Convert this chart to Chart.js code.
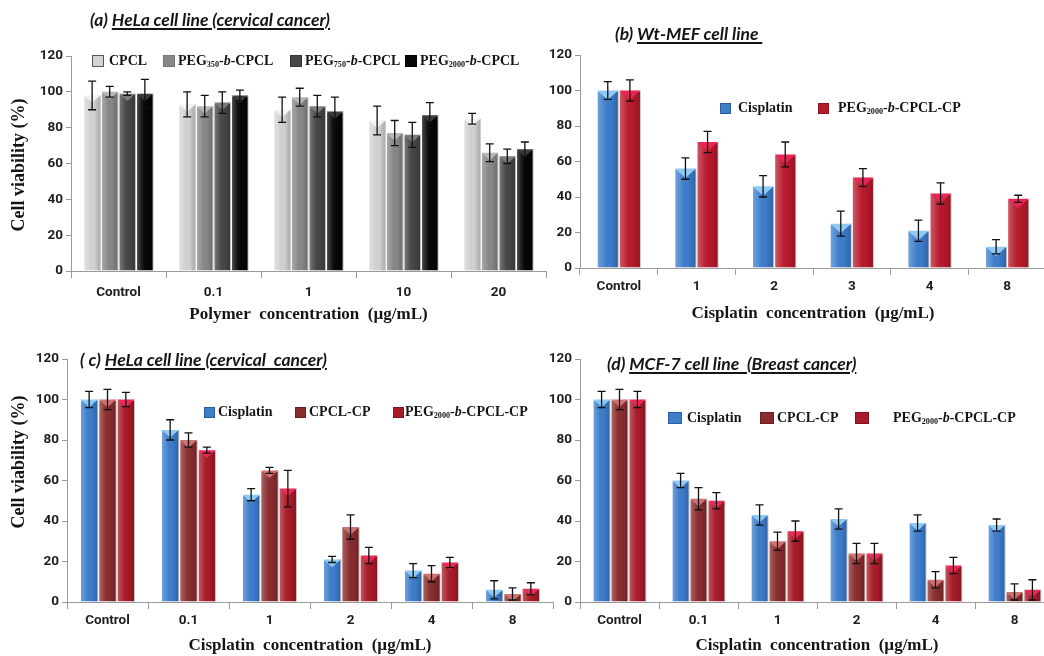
<!DOCTYPE html>
<html><head><meta charset="utf-8">
<script src="https://cdn.jsdelivr.net/npm/chart.js@4.4.1/dist/chart.umd.min.js"></script>
<style>
html,body{margin:0;padding:0;background:#fff;width:1044px;height:656px;overflow:hidden;position:relative;}
canvas{position:absolute;}
.t{position:absolute;font-family:Lato,'Open Sans',sans-serif;font-weight:bold;font-style:italic;font-size:17.5px;color:#151515;white-space:pre;line-height:18px;}
.t u{text-decoration:underline;text-decoration-thickness:1.5px;text-underline-offset:2px;}
.lg{position:absolute;font-family:'Liberation Serif','Times New Roman',serif;font-weight:bold;color:#151515;white-space:nowrap;line-height:1;}
.lg sub{font-size:0.58em;vertical-align:-0.25em;line-height:0;}
.sw{position:absolute;box-sizing:border-box;}
.yt{position:absolute;font-family:'Liberation Serif','Times New Roman',serif;font-weight:bold;font-size:18px;color:#151515;white-space:nowrap;transform:translate(-50%,-50%) rotate(-90deg);line-height:1;}
</style></head><body>
<canvas id="ca" width="550" height="330" style="left:0;top:0;width:550px;height:330px"></canvas>
<canvas id="cb" width="520" height="330" style="left:530px;top:0;width:520px;height:330px"></canvas>
<canvas id="cc" width="560" height="326" style="left:0;top:330px;width:560px;height:326px"></canvas>
<canvas id="cd" width="530" height="326" style="left:530px;top:330px;width:530px;height:326px"></canvas>
<div id="overlay"></div>
<script>
// ---------- DATA ----------
const yTicks = [0, 20, 40, 60, 80, 100, 120];

// (a) HeLa, polymers
const catsA = ['Control', '0.1', '1', '10', '20'];
const cpclA = [98, 93, 90, 84, 85];
const cpclAErr = [8, 7, 7, 8, 3];
const peg350A = [100, 92, 97, 77, 66];
const peg350AErr = [3, 6, 5, 7, 5];
const peg750A = [99, 94, 92, 76, 64];
const peg750AErr = [1, 6, 6, 7, 4];
const peg2000A = [99, 98, 89, 87, 68];
const peg2000AErr = [8, 3, 8, 7, 4];
const seriesNamesA = ['CPCL', 'PEG<sub>350</sub>-<i>b</i>-CPCL', 'PEG<sub>750</sub>-<i>b</i>-CPCL', 'PEG<sub>2000</sub>-<i>b</i>-CPCL'];

// (b) Wt-MEF
const catsB = ['Control', '1', '2', '3', '4', '8'];
const cisB = [100, 56, 46, 25, 21, 12];
const cisBErr = [5, 6, 6, 7, 6, 4];
const pegB = [100, 71, 64, 51, 42, 39];
const pegBErr = [6, 6, 7, 5, 6, 2];
const seriesNamesB = ['Cisplatin', 'PEG<sub>2000</sub>-<i>b</i>-CPCL-CP'];

// (c) HeLa, drugs
const catsC = ['Control', '0.1', '1', '2', '4', '8'];
const cisC = [100, 85, 53, 21, 15.5, 6];
const cisCErr = [4, 5, 3, 1.5, 3.5, 4.5];
const cpclC = [100, 80, 65, 37, 14, 4];
const cpclCErr = [5, 3.5, 1.5, 6, 4, 3];
const pegC = [100, 75, 56, 23, 19.5, 6.5];
const pegCErr = [3.5, 1.5, 9, 4, 2.5, 3];

// (d) MCF-7
const catsD = ['Control', '0.1', '1', '2', '4', '8'];
const cisD = [100, 60, 43, 41, 39, 38];
const cisDErr = [4, 3.5, 5, 5, 4, 3];
const cpclD = [100, 51, 30, 24, 11, 5];
const cpclDErr = [5, 5.5, 4.5, 5, 4, 4];
const pegD = [100, 50, 35, 24, 18, 6];
const pegDErr = [4, 4, 5, 5, 4, 5];
const seriesNamesCD = ['Cisplatin', 'CPCL-CP', 'PEG<sub>2000</sub>-<i>b</i>-CPCL-CP'];

// ---------- STYLE ----------
const C = {
  cpcl: ['#d3d3d3', '#f3f3f3'], p350: ['#888888', '#b8b8b8'], p750: ['#464646', '#7c7c7c'], p2000: ['#060606', '#3c3c3c'],
  blue: ['#3c7dcc', '#8fcaf3'], brown: ['#8a2c2e', '#d07272'], red: ['#a81b28', '#ec2a5a'], redB: ['#b81a2c', '#e82555']
};
const tickFont = { family: 'Roboto', weight: 'bold', size: 13.5 };

const barDeco = {
  id: 'barDeco',
  afterDatasetsDraw(chart) {
    const ctx = chart.ctx;
    const ys = chart.scales.y;
    chart.data.datasets.forEach((ds, i) => {
      const meta = chart.getDatasetMeta(i);
      meta.data.forEach((bar, j) => {
        const p = bar.getProps(['x', 'y', 'base', 'width'], true);
        const l = p.x - p.width / 2, r = p.x + p.width / 2, h = p.base - p.y;
        ctx.save();
        const g = ctx.createLinearGradient(l, 0, r, 0);
        g.addColorStop(0, 'rgba(255,255,255,0.30)');
        g.addColorStop(0.3, 'rgba(255,255,255,0.10)');
        g.addColorStop(0.6, 'rgba(0,0,0,0)');
        g.addColorStop(1, 'rgba(0,0,0,0.22)');
        ctx.fillStyle = g;
        ctx.fillRect(l, p.y, p.width, h);
        const th = Math.min(p.width * 0.42, h);
        ctx.beginPath();
        ctx.moveTo(l + 0.5, p.y); ctx.lineTo(r - 0.5, p.y); ctx.lineTo(p.x, p.y + th); ctx.closePath();
        ctx.fillStyle = ds.topColor; ctx.fill();
        ctx.restore();
      });
    });
    // error bars
    chart.data.datasets.forEach((ds, i) => {
      const meta = chart.getDatasetMeta(i);
      meta.data.forEach((bar, j) => {
        const v = ds.data[j], e = ds.errors[j];
        const x = bar.x;
        const y1 = ys.getPixelForValue(v + e), y2 = ys.getPixelForValue(v - e);
        ctx.save();
        ctx.strokeStyle = '#111'; ctx.lineWidth = 1.3;
        ctx.beginPath();
        ctx.moveTo(x, y1); ctx.lineTo(x, y2);
        ctx.moveTo(x - 4, y1); ctx.lineTo(x + 4, y1);
        ctx.moveTo(x - 4, y2); ctx.lineTo(x + 4, y2);
        ctx.stroke();
        ctx.restore();
      });
    });
  }
};

function makeChart(id, cats, series, o) {
  return new Chart(document.getElementById(id), {
    type: 'bar',
    data: {
      labels: cats,
      datasets: series.map(s => ({
        label: s.label, data: s.data, errors: s.err,
        backgroundColor: s.color[0], topColor: s.color[1],
        borderColor: 'rgba(255,255,255,0.45)', borderWidth: 1,
        categoryPercentage: o.cp, barPercentage: 1
      }))
    },
    options: {
      responsive: false, animation: false, devicePixelRatio: 1,
      layout: { padding: { top: o.top, left: 0, right: o.right, bottom: 0 } },
      plugins: { legend: { display: false }, tooltip: { enabled: false }, title: { display: false } },
      scales: {
        x: {
          ticks: { font: tickFont, color: '#1e1e1e', maxRotation: 0, autoSkip: false, padding: o.xpad },
          grid: { display: true, drawOnChartArea: false, drawTicks: true, tickLength: 7, offset: true, color: '#9a9a9a' },
          border: { display: true, color: '#9a9a9a' },
          title: { display: true, text: o.xtitle, font: { family: 'Liberation Serif', weight: 'bold', size: 17 }, color: '#151515', padding: { top: 0, bottom: o.tpad } },
          afterFit(s) { s.height = o.xh; }
        },
        y: {
          min: 0, max: 120,
          afterBuildTicks(s) { s.ticks = yTicks.map(v => ({ value: v })); },
          ticks: { font: tickFont, color: '#1e1e1e', padding: 3 },
          grid: { drawOnChartArea: false, drawTicks: true, tickLength: 5, color: '#9a9a9a' },
          border: { display: true, color: '#9a9a9a' },
          afterFit(s) { s.width = o.yw; }
        }
      }
    },
    plugins: [barDeco]
  });
}

makeChart('ca', catsA, [
  { label: 'CPCL', data: cpclA, err: cpclAErr, color: C.cpcl },
  { label: 'PEG350-b-CPCL', data: peg350A, err: peg350AErr, color: C.p350 },
  { label: 'PEG750-b-CPCL', data: peg750A, err: peg750AErr, color: C.p750 },
  { label: 'PEG2000-b-CPCL', data: peg2000A, err: peg2000AErr, color: C.p2000 }
], { cp: 0.74, top: 56, right: 4, yw: 71, xh: 59, xpad: 7, tpad: 5, xtitle: 'Polymer  concentration  (µg/mL)' });

makeChart('cb', catsB, [
  { label: 'Cisplatin', data: cisB, err: cisBErr, color: C.blue },
  { label: 'PEG2000-b-CPCL-CP', data: pegB, err: pegBErr, color: C.redB }
], { cp: 0.57, top: 55, right: 4, yw: 50, xh: 62, xpad: 4, tpad: 6, xtitle: 'Cisplatin  concentration  (µg/mL)' });

makeChart('cc', catsC, [
  { label: 'Cisplatin', data: cisC, err: cisCErr, color: C.blue },
  { label: 'CPCL-CP', data: cpclC, err: cpclCErr, color: C.brown },
  { label: 'PEG2000-b-CPCL-CP', data: pegC, err: pegCErr, color: C.red }
], { cp: 0.68, top: 29, right: 7, yw: 67, xh: 54, xpad: 4, tpad: 0, xtitle: 'Cisplatin  concentration  (µg/mL)' });

makeChart('cd', catsD, [
  { label: 'Cisplatin', data: cisD, err: cisDErr, color: C.blue },
  { label: 'CPCL-CP', data: cpclD, err: cpclDErr, color: C.brown },
  { label: 'PEG2000-b-CPCL-CP', data: pegD, err: pegDErr, color: C.red }
], { cp: 0.68, top: 29, right: 6, yw: 50, xh: 54, xpad: 4, tpad: 0, xtitle: 'Cisplatin  concentration  (µg/mL)' });

// ---------- TEXT OVERLAYS ----------
const ov = document.getElementById('overlay');
function addTitle(x, y, pre, under) {
  const d = document.createElement('div');
  d.className = 't'; d.style.left = x + 'px'; d.style.top = y + 'px';
  d.innerHTML = pre + '<u>' + under + '</u>';
  ov.appendChild(d);
}
addTitle(90, 11, '(a) ', 'HeLa cell line (cervical cancer)');
addTitle(615, 25, '(b) ', 'Wt-MEF cell line ');
addTitle(80, 351, '( c) ', 'HeLa cell line (cervical  cancer)');
addTitle(607, 355, '(d) ', 'MCF-7 cell line  (Breast cancer)');

function addYTitle(cx, cy, text) {
  const d = document.createElement('div');
  d.className = 'yt'; d.style.left = cx + 'px'; d.style.top = cy + 'px';
  d.textContent = text; ov.appendChild(d);
}
addYTitle(18, 165, 'Cell viability (%)');
addYTitle(18, 462, 'Cell viability (%)');

function addLegend(items, cy, size, sw, swh) {
  items.forEach(it => {
    const s = document.createElement('div');
    s.className = 'sw';
    s.style.left = it[0] + 'px'; s.style.top = (cy - swh / 2) + 'px';
    s.style.width = sw + 'px'; s.style.height = swh + 'px';
    s.style.background = it[1];
    s.style.border = '1px solid ' + (it[3] || 'rgba(0,0,0,0.25)');
    ov.appendChild(s);
    const t = document.createElement('div');
    t.className = 'lg'; t.style.fontSize = size + 'px';
    t.style.left = it[2] + 'px'; t.style.top = (cy - size / 2) + 'px';
    t.innerHTML = it[4];
    ov.appendChild(t);
  });
}
addLegend([
  [92, C.cpcl[0], 109, '#555', seriesNamesA[0]],
  [163, C.p350[0], 178, '#777', seriesNamesA[1]],
  [290, C.p750[0], 305, '#333', seriesNamesA[2]],
  [405, C.p2000[0], 420, '#000', seriesNamesA[3]]
], 61, 14, 12, 12);
addLegend([
  [720, C.blue[0], 738, null, seriesNamesB[0]],
  [818, C.redB[0], 838, null, seriesNamesB[1]]
], 108, 14, 11, 11);
addLegend([
  [204, C.blue[0], 218, null, seriesNamesCD[0]],
  [295, C.brown[0], 309, null, seriesNamesCD[1]],
  [393, C.red[0], 405, null, seriesNamesCD[2]]
], 412, 14, 11, 11);
addLegend([
  [668, C.blue[0], 687, null, seriesNamesCD[0]],
  [760, C.brown[0], 777, null, seriesNamesCD[1]],
  [855, C.red[0], 893, null, seriesNamesCD[2]]
], 418, 14, 14, 12);
</script>
</body></html>
